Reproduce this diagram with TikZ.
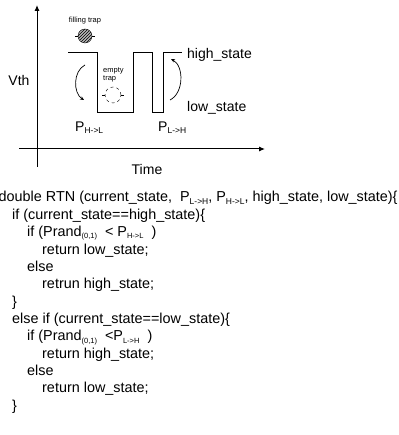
\documentclass[tikz,border=0pt]{standalone}
\usepackage{fontspec}
\setmainfont{Liberation Sans}
\usetikzlibrary{arrows.meta,positioning,patterns}
\newcommand{\ptrans}[2]{P\raisebox{-0.3ex}{\fontsize{#2}{#2}\selectfont #1}}
\newcommand{\prand}{Prand\raisebox{-0.3ex}{\fontsize{7.5}{7.5}\selectfont (0,1)}}

\begin{document}
\begin{tikzpicture}[
        x=1pt, y=-1pt,
        lbl/.style={font=\fontsize{14}{16}\selectfont, inner sep=0pt},
        tinylbl/.style={font=\fontsize{7.5}{8.5}\selectfont, inner sep=0pt, align=left},
        code/.style={font=\fontsize{14.4}{16}\selectfont, inner sep=0pt, anchor=base west},
        trap/.style={circle, draw, minimum size=14pt, inner sep=0pt},
        axis/.style={line width=1pt, -{Latex[length=6pt,width=5pt]}},
        jump/.style={line width=0.7pt, -{Stealth[length=4pt,width=3.5pt]}},
    ]
        \useasboundingbox (0,0) rectangle (398,435);

        % Axes
        \coordinate (ybot) at (37,167);
        \coordinate (ytop) at (37,5);
        \coordinate (xleft) at (19,149);
        \coordinate (xright) at (265,149);
        \draw[axis] (ybot) -- (ytop);
        \draw[axis] (xleft) -- (xright);
        \node[lbl] (vth) at (19,80) {Vth};
        \node[lbl] (time) at (147,169) {Time};

        % Telegraph signal
        \draw[line width=1pt] (68,53) -- (97,53) -- (97,113) -- (133,113) -- (133,53)
            -- (152,53) -- (152,113) -- (163,113) -- (163,53) -- (182,53);
        \node[lbl, anchor=west] (high) at (187,55) {high\_state};
        \node[lbl, anchor=west] (low) at (187,108) {low\_state};

        % Traps
        \node[tinylbl] (filllbl) at (85,21) {filling trap};
        \node[trap, fill=gray!55, postaction={pattern=north east lines}] (full) at (85,36) {};
        \draw (full.west) -- ++(-3,0);
        \draw (full.east) -- ++(3,0);
        \node[tinylbl, anchor=west] (emptylbl) at (103,75) {empty\\trap};
        \node[trap, dashed, minimum size=16pt] (empty) at (113,95) {};
        \draw (empty.west) -- ++(-3,0);
        \draw (empty.east) -- ++(3,0);

        % Transitions
        \coordinate (hl1) at (85,65);
        \coordinate (hl2) at (84,100);
        \coordinate (lh1) at (170,100);
        \coordinate (lh2) at (171,59);
        \draw[jump] (hl1) .. controls (73,71) and (73,93) .. (hl2);
        \draw[jump] (lh1) .. controls (184,93) and (184,66) .. (lh2);
        \node[lbl, anchor=west] (phl) at (75,128) {\ptrans{H->L}{8.5}};
        \node[lbl, anchor=west] (plh) at (158,128) {\ptrans{L->H}{8.5}};

        % RTN pseudo code
        \node[code] (c0) at (-1.5,202) {double RTN (current\_state,\ \ \ptrans{L->H}{8.5}, \ptrans{H->L}{8.5}, high\_state, low\_state)\{};
        \node[code] (c1) at (12,219.4) {if (current\_state==high\_state)\{};
        \node[code] (c2) at (27,236.7) {if (\prand\ \ < \ptrans{H->L}{7.5}\ \ )};
        \node[code] (c3) at (42,254.1) {return low\_state;};
        \node[code] (c4) at (27,271.4) {else};
        \node[code] (c5) at (42,288.8) {retrun high\_state;};
        \node[code] (c6) at (12,306.1) {\}};
        \node[code] (c7) at (12,323.5) {else if (current\_state==low\_state)\{};
        \node[code] (c8) at (27,340.8) {if (\prand\ \ <\ptrans{L->H}{7.5}\ \ )};
        \node[code] (c9) at (42,358.2) {return high\_state;};
        \node[code] (c10) at (27,375.5) {else};
        \node[code] (c11) at (42,392.9) {return low\_state;};
        \node[code] (c12) at (12,410.2) {\}};
    \end{tikzpicture}
\end{document}
